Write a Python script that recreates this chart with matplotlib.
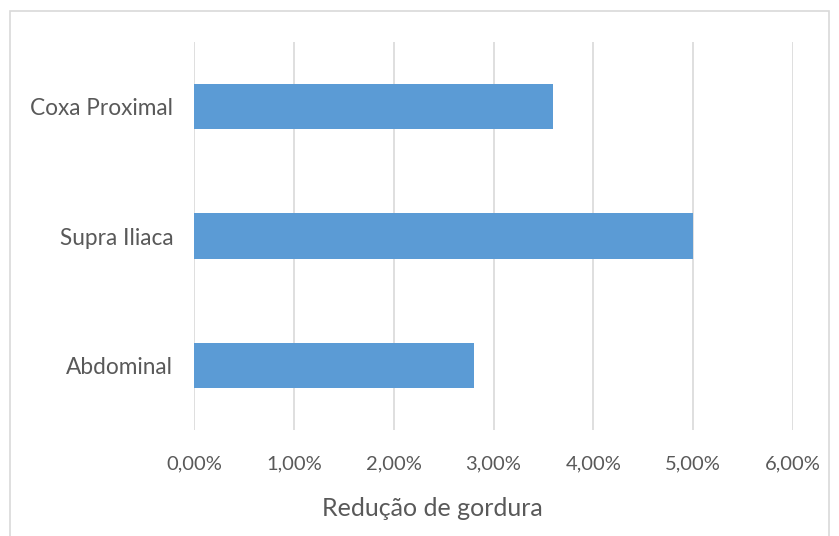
import matplotlib
matplotlib.use("Agg")
import matplotlib.pyplot as plt
from matplotlib.ticker import FuncFormatter
from matplotlib.patches import Rectangle

categories = ["Abdominal", "Supra Iliaca", "Coxa Proximal"]
values = [2.8, 5.0, 3.6]  # percent
xticks = [0, 1, 2, 3, 4, 5, 6]

plt.rcParams['font.family'] = ['Lato', 'DejaVu Sans']
text_color = "#595959"

fig = plt.figure(figsize=(8.39, 5.36), dpi=100)
ax = fig.add_axes([194/839, 1 - 430/536, (793-194)/839, (430-42)/536])

ax.barh(range(len(categories)), values, height=0.35, color="#5B9BD5", zorder=3)
ax.set_xlim(0, 6)
ax.set_ylim(-0.5, len(categories) - 0.5)
ax.set_xticks(xticks)
ax.xaxis.set_major_formatter(FuncFormatter(lambda v, p: f"{v:.2f}%".replace(".", ",")))
ax.set_yticks(range(len(categories)))
ax.set_yticklabels(categories)
ax.grid(axis="x", color="#D9D9D9", linewidth=1.2, zorder=0)
for s in ax.spines.values():
    s.set_visible(False)
ax.tick_params(axis="both", length=0, labelcolor=text_color)
ax.tick_params(axis="x", pad=18, labelsize=14.5)
ax.tick_params(axis="y", pad=15, labelsize=16.3)
ax.set_xlabel("Redução de gordura", fontsize=18, color=text_color)
ax.xaxis.set_label_coords((432-194)/599, -(508-430)/388, transform=ax.transAxes)
ax.xaxis.label.set_va("center")

fig.patches.append(Rectangle((10/839, -0.1), (829-10)/839, 1.1 - 11/536, transform=fig.transFigure,
                             fill=False, edgecolor="#D9D9D9", linewidth=1.2))

fig.savefig("out.png", dpi=100)
